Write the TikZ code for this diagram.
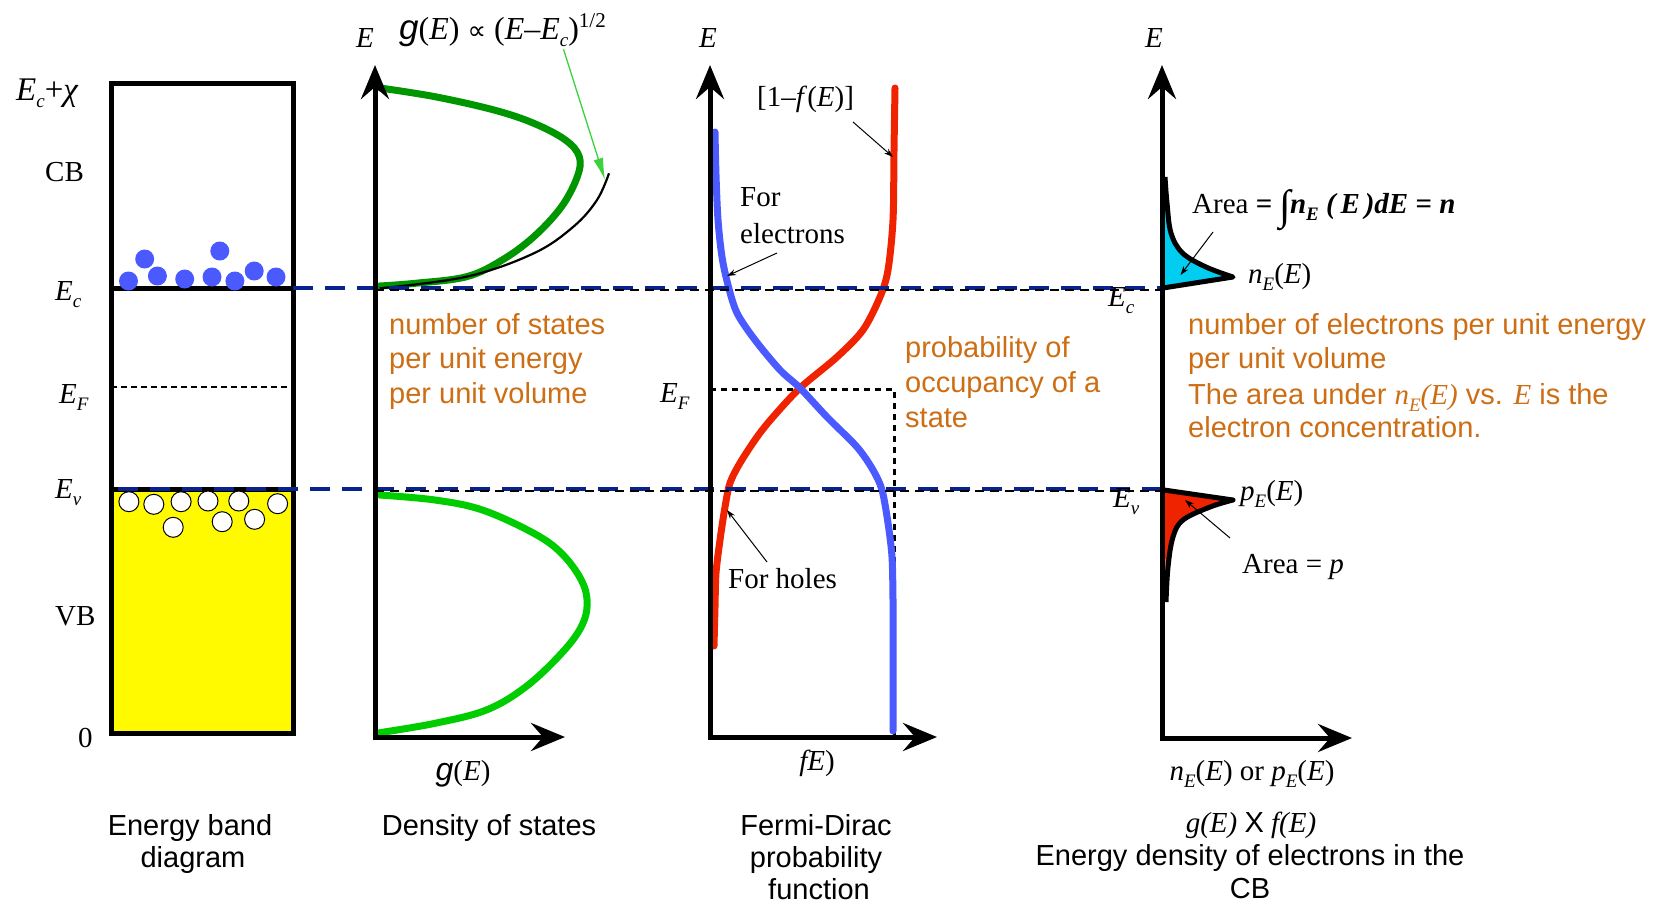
\documentclass[tikz,border=0pt]{standalone}
\usepackage{fontspec}
\setmainfont{Liberation Serif}
\newfontfamily\arial{Liberation Sans}
\newfontfamily\dejavu{DejaVu Sans}
\usetikzlibrary{arrows.meta}
\definecolor{orng}{RGB}{205,110,20}
\definecolor{dblue}{RGB}{10,35,140}
\definecolor{eblue}{RGB}{75,90,255}
\definecolor{hred}{RGB}{240,35,0}
\definecolor{dgreen}{RGB}{0,150,0}
\definecolor{lgreen}{RGB}{0,205,0}
\definecolor{agreen}{RGB}{60,210,60}
\definecolor{cyanf}{RGB}{0,205,240}
\definecolor{yel}{RGB}{255,250,0}
\newcommand\subt[1]{\raisebox{-7pt}{\fontsize{19}{19}\selectfont #1}}
\tikzset{
  tms/.style={inner sep=0pt, font=\fontsize{29}{34}\selectfont},
  ar/.style={inner sep=0pt, font=\arial\fontsize{29}{34}\selectfont},
  orl/.style={ar, text=orng, anchor=base west},
  axisln/.style={line width=5pt, {Stealth[length=34pt,width=28pt,inset=12pt]}-{Stealth[length=34pt,width=28pt,inset=12pt]}},
  thinarrow/.style={line width=1pt, -{Stealth[length=9pt,width=6pt]}},
  bdash/.style={dblue, line width=4pt, dash pattern=on 20pt off 12pt},
  kdash/.style={black, line width=2pt, dash pattern=on 9pt off 6pt},
  kdot/.style={black, line width=3pt, dash pattern=on 6pt off 5pt},
  curve/.style={line width=7pt, line cap=round, line join=round},
}
\begin{document}
\begin{tikzpicture}[x=1pt,y=-1pt]
\path[use as bounding box, fill=white] (0,0) rectangle (1661,905);

% ---------- Panel 1: energy band diagram ----------
\fill[yel] (111,489) rectangle (293,733);
\draw[line width=1.5pt, dash pattern=on 6pt off 4pt] (111,387) -- (293,387);
\draw[line width=5pt] (111,288) -- (293,288);
\draw[line width=5pt] (111,489) -- (293,489);
\draw[line width=5pt] (111,83) rectangle (293,733);
\foreach \x/\y in {128.5/281, 144.7/259, 157.4/276, 184.7/279, 212/277, 219.8/251, 234.9/281, 254.2/271, 276/277}
  \fill[eblue] (\x,\y) circle[radius=9.5pt];
\foreach \x/\y in {128.9/501.7, 153.8/504.3, 181.1/501.7, 208/501, 238.8/501, 277.6/503.7, 173.2/527.3, 222.2/521.7, 254.6/519.3}
  \filldraw[fill=white, draw=black, line width=1pt] (\x,\y) circle[radius=10pt];

\node[tms, anchor=base west, font=\fontsize{33}{36}\selectfont] (lecx) at (16,100) {\textit{E}\subt{\textit{c}}+\textit{χ}};
\node[tms, anchor=base west] (lcb) at (45,181) {CB};
\node[tms, anchor=base west] (lec1) at (55,300) {\textit{E}\subt{\textit{c}}};
\node[tms, anchor=base west] (lef1) at (59,403) {\textit{E}\subt{\textit{F}}};
\node[tms, anchor=base west] (lev1) at (55,498) {\textit{E}\subt{\textit{v}}};
\node[tms, anchor=base west] (lvb) at (55,625) {VB};
\node[tms, anchor=base west] (lzero) at (78,747) {0};
\node[ar, anchor=base] (cap1a) at (190,835) {Energy band};
\node[ar, anchor=base] (cap1b) at (193,867) {diagram};

% ---------- Panel 2: density of states ----------
\draw[dgreen, curve] plot[smooth, tension=0.6] coordinates {(380,88) (435,96.7) (494,110) (533.8,123.3) (565.4,140) (579.3,156.7) (577.3,176.7) (561.5,206.7) (533.8,236.7) (502.2,260) (466.6,276.7) (415.2,283.3) (379.6,286)};
\draw[black, line width=2.2pt] plot[smooth, tension=0.6] coordinates {(379.6,288.3) (466.6,276.7) (533.8,253.3) (573.4,226.7) (597,200) (609,173.3)};
\draw[lgreen, curve] plot[smooth, tension=0.6] coordinates {(379.6,495) (435,500) (482.4,510) (533.8,533.3) (561.5,553.3) (581.3,580) (587.2,603.3) (581.3,626.7) (561.5,653.3) (525.9,686.7) (486.4,710) (435,723.3) (379.6,732.7)};
\coordinate (gtip) at (605,180);
\node[tms, anchor=base west, font=\fontsize{32}{36}\selectfont] (gform) at (399,39) {{\arial\itshape\fontsize{35}{36}\selectfont g}(\textit{E}) {\dejavu\fontsize{26}{30}\selectfont ∝} (\textit{E}–\textit{E}\subt{\textit{c}})\raisebox{12pt}{\fontsize{21}{21}\selectfont 1/2}};
\draw[agreen, line width=1.3pt, -{Latex[length=22pt,width=10pt]}] (563.5,49.3) -- (gtip);
\node[orl] (o2a) at (389,334) {number of states};
\node[orl] (o2b) at (389,368.5) {per unit energy};
\node[orl] (o2c) at (389,403) {per unit volume};
\node[tms, anchor=base west] (le2) at (356,47) {\textit{E}};
\node[tms, anchor=base] (lg2) at (463,780) {{\arial\itshape\fontsize{32}{34}\selectfont g}(\textit{E})};
\node[ar, anchor=base] (cap2) at (489,835) {Density of states};

% ---------- Panel 3: Fermi-Dirac ----------
\draw[hred, curve] plot[smooth, tension=0.5] coordinates {(895,88) (894,150) (893,220) (888,270) (880,297) (863,330) (837,357) (800,388) (773,417) (757,437) (740,463) (730,483) (725,507) (720,540) (716,573) (715,607) (714,646)};
\draw[kdot] (710,389) -- (894,389) -- (894,735);
\draw[eblue, curve] plot[smooth, tension=0.5] coordinates {(715,132) (716,175) (718,220) (722,257) (728,285) (737,313) (755,340) (780,370) (800,388) (827,417) (857,447) (873,470) (882,490) (888,523) (892,557) (893,600) (893,640) (893,731)};
\node[tms, anchor=base west] (le3) at (699,47) {\textit{E}};
\node[tms, anchor=base west] (l1mf) at (757,106) {[1–\textit{f}(\textit{E})]};
\coordinate (redpt) at (893,157);
\draw[thinarrow] (853,122) -- (redpt);
\node[tms, anchor=base west] (lfor) at (740,206) {For};
\node[tms, anchor=base west] (lelec) at (740,243) {electrons};
\coordinate (bluept) at (727,276);
\draw[thinarrow] (777,253) -- (bluept);
\node[tms, anchor=base west] (lef3) at (660,402) {\textit{E}\subt{\textit{F}}};
\node[tms, anchor=base west] (lholes) at (728,588) {For holes};
\coordinate (holept) at (727,510);
\draw[thinarrow] (767,562) -- (holept);
\node[orl] (o3a) at (905,357) {probability of};
\node[orl] (o3b) at (905,392) {occupancy of a};
\node[orl] (o3c) at (905,427) {state};
\node[tms, anchor=base] (lf3) at (817,770) {\textit{fE})};
\node[ar, anchor=base] (cap3a) at (816,835) {Fermi-Dirac};
\node[ar, anchor=base] (cap3b) at (816,867) {probability};
\node[ar, anchor=base] (cap3c) at (819,899) {function};

% ---------- Panel 4: g(E) x f(E) ----------
\fill[cyanf] plot[smooth, tension=0.6] coordinates {(1165,177) (1167,203) (1171,233) (1182.5,253) (1206,267) (1233,277)} -- (1163,288) -- cycle;
\draw[line width=5pt, line join=round] plot[smooth, tension=0.6] coordinates {(1165,177) (1167,203) (1171,233) (1182.5,253) (1206,267) (1233,277)} -- (1163,288);
\fill[hred] (1164,490) -- (1233,500) -- plot[smooth, tension=0.6] coordinates {(1233,500) (1210,507) (1183,520) (1173,537) (1168,567) (1166,602)} -- cycle;
\draw[line width=5pt, line join=round] (1164,490) -- (1233,500) -- plot[smooth, tension=0.6] coordinates {(1233,500) (1210,507) (1183,520) (1173,537) (1168,567) (1166,602)};

% dashed energy levels
\draw[bdash] (293,288) -- (1162,288);
\draw[kdash] (375,289.5) -- (1162,289.5);
\draw[bdash] (118,489) -- (1162,489);
\draw[kdash] (375,490.5) -- (1162,490.5);

% axes
\coordinate (a2top) at (375,65); \coordinate (a2o) at (375,737); \coordinate (a2r) at (565,737);
\coordinate (a3top) at (710,65); \coordinate (a3o) at (710,737); \coordinate (a3r) at (937,737);
\coordinate (a4top) at (1162,65); \coordinate (a4o) at (1162,738); \coordinate (a4r) at (1352,738);
\draw[axisln] (a2top) -- (a2o) -- (a2r);
\draw[axisln] (a3top) -- (a3o) -- (a3r);
\draw[axisln] (a4top) -- (a4o) -- (a4r);

\node[tms, anchor=base west] (le4) at (1145,47) {\textit{E}};
\node[tms, anchor=base west] (lec4) at (1108,306) {\textit{E}\subt{\textit{c}}};
\node[tms, anchor=base west] (lev4) at (1113,507) {\textit{E}\subt{\textit{v}}};
\node[tms, anchor=base west] (lne) at (1248,283) {\textit{n}\subt{\textit{E}}(\textit{E})};
\node[tms, anchor=base west] (larea) at (1192,213) {Area \textbf{= \raisebox{-6pt}{\fontsize{42}{42}\selectfont ∫}\kern-1pt\textit{n}\subt{\textit{E}} \textit{(\,E\,)dE} = \textit{n}}};
\coordinate (cyanpt) at (1180.5,275);
\draw[thinarrow] (1213,232) -- (cyanpt);
\node[tms, anchor=base west] (lpe) at (1240,500) {\textit{p}\subt{\textit{E}}(\textit{E})};
\node[tms, anchor=base west] (lareap) at (1242,573) {Area = \textit{p}};
\coordinate (redarea) at (1185,500);
\draw[thinarrow] (1230,538) -- (redarea);
\node[orl] (o4a) at (1188,334) {number of electrons per unit energy};
\node[orl] (o4b) at (1188,368.5) {per unit volume};
\node[orl] (o4c) at (1188,404) {The area under {\rmfamily\itshape n\subt{E}(E)} vs. {\rmfamily\itshape E} is the};
\node[orl] (o4d) at (1188,437) {electron concentration.};
\node[tms, anchor=base] (lax4) at (1252,780) {\textit{n}\subt{\textit{E}}(\textit{E}) or \textit{p}\subt{\textit{E}}(\textit{E})};
\node[tms, anchor=base] (cap4a) at (1251,832) {\textit{g(E)} {\arial X} \textit{f(E)}};
\node[ar, anchor=base] (cap4b) at (1250,865) {Energy density of electrons in the};
\node[ar, anchor=base] (cap4c) at (1250,898) {CB};
\end{tikzpicture}
\end{document}
